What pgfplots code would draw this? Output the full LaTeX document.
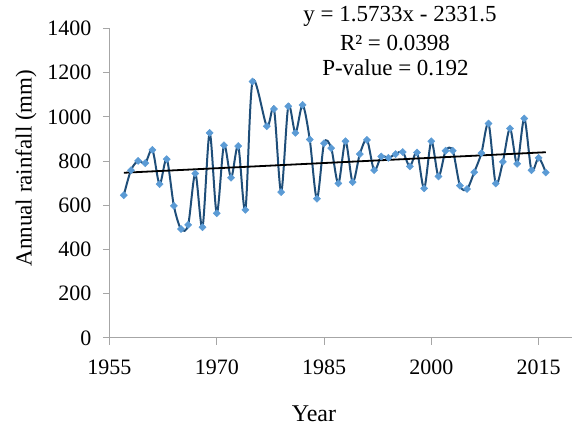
\documentclass[border=0pt]{standalone}
\usepackage{fontspec}
\setmainfont{Liberation Serif}
\usepackage{pgfplots}
\pgfplotsset{compat=1.18}
\definecolor{linec}{HTML}{1F4E79}
\definecolor{markc}{HTML}{5B9BD5}
\definecolor{axisgray}{HTML}{A6A6A6}
\pgfplotstableread{
year value
1957 646
1958 759
1959 801
1960 791
1961 851
1962 696
1963 809
1964 598
1965 493
1966 512
1967 744
1968 501
1969 928
1970 564
1971 872
1972 725
1973 868
1974 580
1975 1160
1977 958
1978 1036
1979 660
1980 1048
1981 928
1982 1054
1983 898
1984 630
1985 881
1986 859
1987 699
1988 890
1989 705
1990 832
1991 896
1992 759
1993 821
1994 815
1995 832
1996 841
1997 776
1998 839
1999 677
2000 890
2001 731
2002 847
2003 847
2004 689
2005 674
2006 750
2007 836
2008 970
2009 699
2010 797
2011 948
2012 788
2013 993
2014 759
2015 815
2016 749
}\rain
\begin{document}
\begin{tikzpicture}
\path[use as bounding box] (-109.5pt,-90pt) rectangle (463.5pt,338pt);
\begin{axis}[
  at={(0pt,0pt)}, anchor=south west,
  scale only axis, width=462pt, height=309.5pt,
  xmin=1955, xmax=2019.6, ymin=0, ymax=1400,
  axis x line=bottom, axis y line=left,
  axis line style={draw=axisgray, line width=1pt, -},
  xtick={1955,1970,...,2015}, ytick={0,200,...,1400},
  tick align=outside, major tick length=6.5pt,
  tick style={draw=axisgray, line width=1pt},
  ticklabel style={font=\fontsize{22}{22}\selectfont},
  /pgf/number format/assume math mode=true,
  /pgf/number format/1000 sep={},
  xticklabel style={yshift=-12pt},
  yticklabel style={xshift=-8pt},
]
\addplot[color=linec, line width=2pt, smooth, tension=0.5,
  mark=square*, mark size=2.5pt,
  mark options={fill=markc, draw=markc, line width=0.5pt, rotate=45}]
  table[x=year, y=value] {\rain};
\addplot[black, line width=1.8pt, no marks] coordinates {(1957,747.45) (2016,840.27)};
\end{axis}
\begin{scope}[every node/.style={inner sep=0pt}]
\node[anchor=base, font=\fontsize{23}{23}\selectfont] at (290.5pt,316pt) {y = 1.5733x - 2331.5};
\node[anchor=base, font=\fontsize{23}{23}\selectfont] at (285.5pt,287pt) {R² = 0.0398};
\node[anchor=base, font=\fontsize{23}{23}\selectfont] at (286pt,262pt) {P-value = 0.192};
\node[rotate=90, font=\fontsize{23}{23}\selectfont] at (-83.5pt,170pt) {Annual rainfall (mm)};
\node[anchor=base, font=\fontsize{24}{24}\selectfont] at (204.5pt,-83.7pt) {Year};
\end{scope}
\end{tikzpicture}
\end{document}
